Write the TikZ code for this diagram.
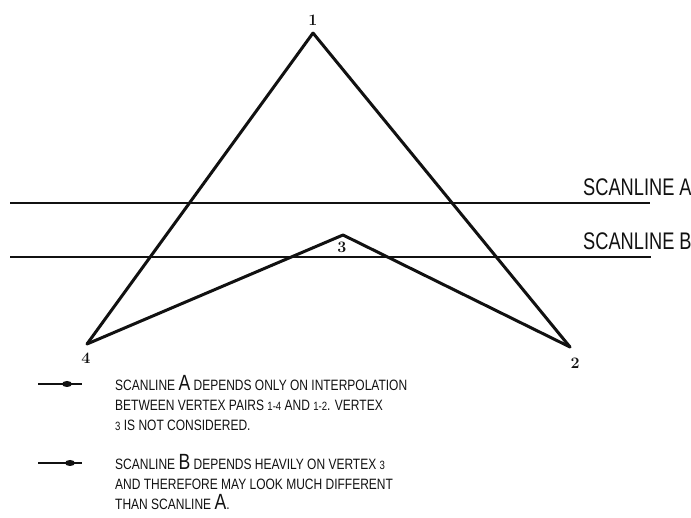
\documentclass[tikz,border=0pt]{standalone}
\usepackage{fontspec}
\usepackage{tikz}
\usetikzlibrary{arrows.meta,positioning,calc,shapes.geometric}
\newfontfamily\scnNoteFont[FakeStretch=0.8]{Liberation Sans}
\newfontfamily\scnTagFont[FakeStretch=0.76]{Liberation Sans}
\definecolor{scnInk}{HTML}{111111}
\tikzset{
  scnedge/.style={draw=scnInk,line width=3pt,line join=miter,line cap=round},
  scnline/.style={draw=scnInk,line width=2.4pt},
  scnvtx/.style={font=\bfseries\fontsize{16}{16}\selectfont,text=scnInk,inner sep=0pt},
  scntag/.style={font=\scnTagFont\fontsize{24}{24}\selectfont,text=scnInk,inner sep=0pt,anchor=base west},
  scnnote/.style={font=\scnNoteFont\fontsize{15}{20.3}\selectfont,text=scnInk,align=left,inner sep=0pt,anchor=north west},
  scnkey/.style={draw=scnInk,line width=2.2pt},
  scnkeydot/.style={fill=scnInk,ellipse,minimum width=10pt,minimum height=6pt,inner sep=0pt},
}
\newcommand{\scnBig}[1]{{\fontsize{22}{20}\selectfont #1}}
\newcommand{\scnSmall}[1]{{\fontsize{12}{20}\selectfont #1}}

\begin{document}
\begin{tikzpicture}[x=1pt,y=-1pt]
  \useasboundingbox (0,0) rectangle (691,518);

  % vertices of the polygon
  \coordinate (V1) at (313,33);
  \coordinate (V2) at (570,347);
  \coordinate (V3) at (343,235);
  \coordinate (V4) at (87,344);
  \node[scnvtx] (N1) at (313,20) {1};
  \node[scnvtx] (N2) at (575,363) {2};
  \node[scnvtx] (N3) at (342,247) {3};
  \node[scnvtx] (N4) at (86,358) {4};
  \foreach \a/\b in {V1/V4,V1/V2,V4/V3,V3/V2}{\draw[scnedge] (\a)--(\b);}

  % scanlines
  \coordinate (A0) at (10,203);
  \coordinate (A1) at (650,203);
  \coordinate (B0) at (10,257);
  \coordinate (B1) at (651,257);
  \draw[scnline] (A0) -- (A1);
  \draw[scnline] (B0) -- (B1);
  \node[scntag] (TA) at (583,196) {SCANLINE A};
  \node[scntag] (TB) at (583,250) {SCANLINE B};

  % key
  \coordinate (K1a) at (38,384);
  \coordinate (K1b) at (82,384);
  \coordinate (K2a) at (38,463);
  \coordinate (K2b) at (82,463);
  \draw[scnkey] (K1a) -- (K1b);
  \draw[scnkey] (K2a) -- (K2b);
  \node[scnkeydot] (K1d) at (67,384) {};
  \node[scnkeydot] (K2d) at (70,463) {};

  \node[scnnote] (M1) at (115,375) {SCANLINE \scnBig{A} DEPENDS ONLY ON INTERPOLATION\\
    BETWEEN VERTEX PAIRS \scnSmall{1-4} AND \scnSmall{1-2}. VERTEX\\
    \scnSmall{3} IS NOT CONSIDERED.};
  \node[scnnote] (M2) at (115,454) {SCANLINE \scnBig{B} DEPENDS HEAVILY ON VERTEX \scnSmall{3}\\
    AND THEREFORE MAY LOOK MUCH DIFFERENT\\
    THAN SCANLINE \scnBig{A}.};
\end{tikzpicture}
\end{document}
